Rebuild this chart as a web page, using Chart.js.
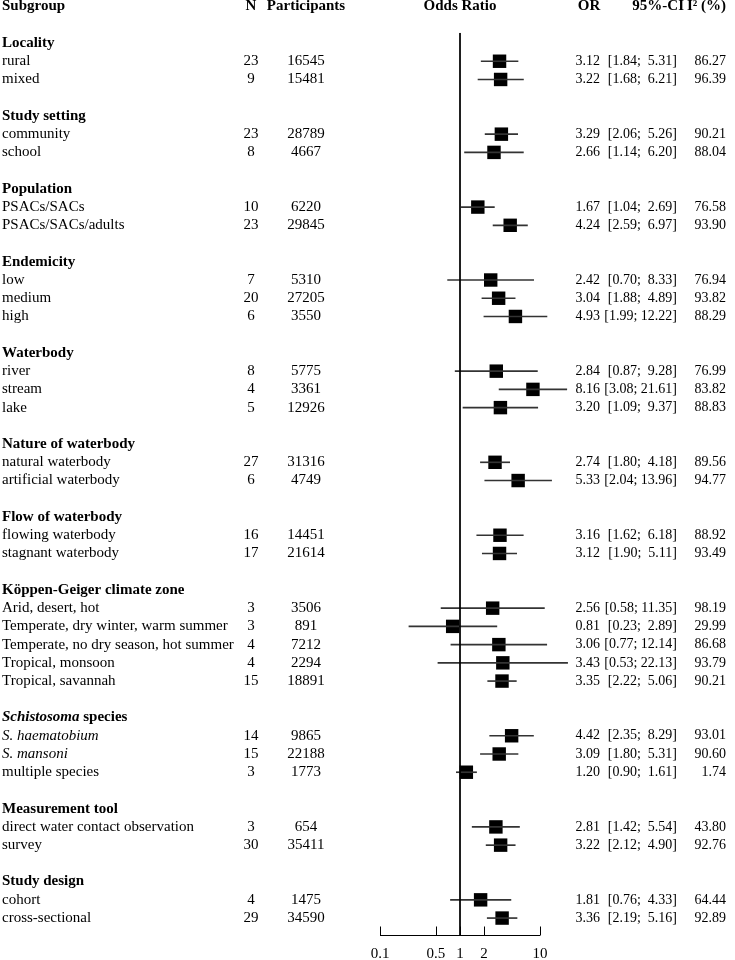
<!DOCTYPE html>
<html>
<head>
<meta charset="utf-8">
<script src="https://cdn.jsdelivr.net/npm/chart.js@4/dist/chart.umd.min.js"></script>
<style>
  html, body { margin: 0; padding: 0; background: #fff; }
  #forest { display: block; }
</style>
</head>
<body>
<canvas id="forest" width="735" height="960"></canvas>
<script>
// subgroup headings and how many rows sit under each one
const groupNames = ['Locality', 'Study setting', 'Population', 'Endemicity', 'Waterbody',
  'Nature of waterbody', 'Flow of waterbody', 'Köppen-Geiger climate zone',
  'Schistosoma species', 'Measurement tool', 'Study design']
const groupSizes = [2, 2, 2, 3, 3, 2, 2, 5, 3, 2, 2]

const subgroups = ['rural', 'mixed', 'community', 'school', 'PSACs/SACs', 'PSACs/SACs/adults',
  'low', 'medium', 'high', 'river', 'stream', 'lake', 'natural waterbody', 'artificial waterbody',
  'flowing waterbody', 'stagnant waterbody', 'Arid, desert, hot', 'Temperate, dry winter, warm summer',
  'Temperate, no dry season, hot summer', 'Tropical, monsoon', 'Tropical, savannah',
  'S. haematobium', 'S. mansoni', 'multiple species', 'direct water contact observation', 'survey',
  'cohort', 'cross-sectional']
const nStudies = [23, 9, 23, 8, 10, 23, 7, 20, 6, 8, 4, 5, 27, 6, 16, 17, 3, 3, 4, 4, 15, 14, 15, 3, 3, 30, 4, 29]
const participants = [16545, 15481, 28789, 4667, 6220, 29845, 5310, 27205, 3550, 5775, 3361, 12926,
  31316, 4749, 14451, 21614, 3506, 891, 7212, 2294, 18891, 9865, 22188, 1773, 654, 35411, 1475, 34590]
const oddsRatios = [3.12, 3.22, 3.29, 2.66, 1.67, 4.24, 2.42, 3.04, 4.93, 2.84, 8.16, 3.20, 2.74, 5.33,
  3.16, 3.12, 2.56, 0.81, 3.06, 3.43, 3.35, 4.42, 3.09, 1.20, 2.81, 3.22, 1.81, 3.36]
const ciLower = [1.84, 1.68, 2.06, 1.14, 1.04, 2.59, 0.70, 1.88, 1.99, 0.87, 3.08, 1.09, 1.80, 2.04,
  1.62, 1.90, 0.58, 0.23, 0.77, 0.53, 2.22, 2.35, 1.80, 0.90, 1.42, 2.12, 0.76, 2.19]
const ciUpper = [5.31, 6.21, 5.26, 6.20, 2.69, 6.97, 8.33, 4.89, 12.22, 9.28, 21.61, 9.37, 4.18, 13.96,
  6.18, 5.11, 11.35, 2.89, 12.14, 22.13, 5.06, 8.29, 5.31, 1.61, 5.54, 4.90, 4.33, 5.16]
const i2Values = [86.27, 96.39, 90.21, 88.04, 76.58, 93.90, 76.94, 93.82, 88.29, 76.99, 83.82, 88.83,
  89.56, 94.77, 88.92, 93.49, 98.19, 29.99, 86.68, 93.79, 90.21, 93.01, 90.60, 1.74, 43.80, 92.76,
  64.44, 92.89]

const tickValues = [0.1, 0.5, 1, 2, 10]
const italicParts = ['Schistosoma', 'S. haematobium', 'S. mansoni']

// row slots: heading, its rows, then one blank line
let headRows = [], rows = []
let r = 0
groupNames.forEach((g, gi) => {
	headRows.push(r); r++
	for (let k = 0; k < groupSizes[gi]; k++) { rows.push(r); r++ }
	r++
})
const lastRow = rows[rows.length - 1]
const axisRow = lastRow + 0.93
const serif = '"Liberation Serif", "Times New Roman", serif'

function drawLabel(ctx, text, x, y, bold) {
	const w = bold ? 'bold ' : ''
	let it = italicParts.find(p => text.startsWith(p))
	if (it) {
		ctx.font = 'italic ' + w + '15px ' + serif
		ctx.fillText(it, x, y)
		let dx = ctx.measureText(it).width
		ctx.font = w + '15px ' + serif
		ctx.fillText(text.slice(it.length), x + dx, y)
	} else {
		ctx.font = w + '15px ' + serif
		ctx.fillText(text, x, y)
	}
}

const tableText = {
	id: 'tableText',
	afterDraw(chart) {
		const { ctx, scales } = chart
		const x = scales.x, y = scales.y
		const py = v => y.getPixelForValue(v)
		ctx.save()
		ctx.fillStyle = '#000'
		ctx.textBaseline = 'middle'

		// column headers
		ctx.font = 'bold 15px ' + serif
		let hy = py(-2)
		ctx.textAlign = 'left'; ctx.fillText('Subgroup', 2, hy)
		ctx.textAlign = 'center'; ctx.fillText('N', 251, hy)
		ctx.fillText('Participants', 306, hy)
		ctx.fillText('Odds Ratio', x.getPixelForValue(1), hy)
		ctx.fillText('OR', 589, hy)
		ctx.textAlign = 'right'; ctx.fillText('95%-CI', 684, hy)
		ctx.textAlign = 'left'; ctx.fillText('I² (%)', 687, hy)

		ctx.textAlign = 'left'
		groupNames.forEach((g, i) => drawLabel(ctx, g, 2, py(headRows[i]), true))

		subgroups.forEach((s, i) => {
			let ry = py(rows[i])
			ctx.textAlign = 'left'
			drawLabel(ctx, s, 2, ry, false)
			ctx.font = '15px ' + serif
			ctx.textAlign = 'center'
			ctx.fillText(String(nStudies[i]), 251, ry)
			ctx.fillText(String(participants[i]), 306, ry)
			ctx.font = '14px ' + serif
			ctx.textAlign = 'right'
			ctx.fillText(oddsRatios[i].toFixed(2), 600, ry)
			ctx.fillText(i2Values[i].toFixed(2), 726, ry)
			let hi = ciUpper[i].toFixed(2).padStart(5, ' ')
			ctx.fillText('[' + ciLower[i].toFixed(2) + '; ' + hi + ']', 677, ry)
		})

		// x axis, only over 0.1 .. 10
		let ay = Math.round(py(axisRow)) + 0.5
		let x0 = x.getPixelForValue(tickValues[0])
		let x1 = x.getPixelForValue(tickValues[tickValues.length - 1])
		ctx.strokeStyle = '#000'
		ctx.lineWidth = 1
		ctx.beginPath()
		ctx.moveTo(x0, ay); ctx.lineTo(x1, ay)
		tickValues.forEach(t => {
			let tx = Math.round(x.getPixelForValue(t)) + 0.5
			ctx.moveTo(tx, ay); ctx.lineTo(tx, ay - 9)
		})
		ctx.stroke()
		ctx.font = '15px ' + serif
		ctx.textAlign = 'center'
		tickValues.forEach(t => ctx.fillText(String(t), x.getPixelForValue(t), ay + 19))
		ctx.restore()
	}
}

const ciData = rows.map((row, i) => ({ x: [ciLower[i], ciUpper[i]], y: row }))
const orData = rows.map((row, i) => ({ x: oddsRatios[i], y: row }))

new Chart(document.getElementById('forest'), {
	type: 'bar',
	data: {
		datasets: [
			{
				type: 'line',
				data: [{ x: 1, y: -0.55 }, { x: 1, y: axisRow }],
				borderColor: '#000',
				borderWidth: 1,
				pointRadius: 0
			},
			{
				data: ciData,
				backgroundColor: '#333',
				borderWidth: 0,
				barThickness: 1
			},
			{
				type: 'scatter',
				data: orData,
				pointStyle: 'rect',
				pointRadius: 9.5,
				backgroundColor: '#000',
				borderWidth: 0
			}
		]
	},
	options: {
		indexAxis: 'y',
		responsive: false,
		animation: false,
		layout: { padding: 0, autoPadding: false },
		plugins: { legend: { display: false }, tooltip: { enabled: false } },
		scales: {
			x: { type: 'logarithmic', min: Math.pow(10, -5.75), max: Math.pow(10, 3.4375), display: false },
			y: { type: 'linear', reverse: true, offset: false, min: -2.359, max: 50.30, display: false }
		}
	},
	plugins: [tableText]
})
</script>
</body>
</html>
